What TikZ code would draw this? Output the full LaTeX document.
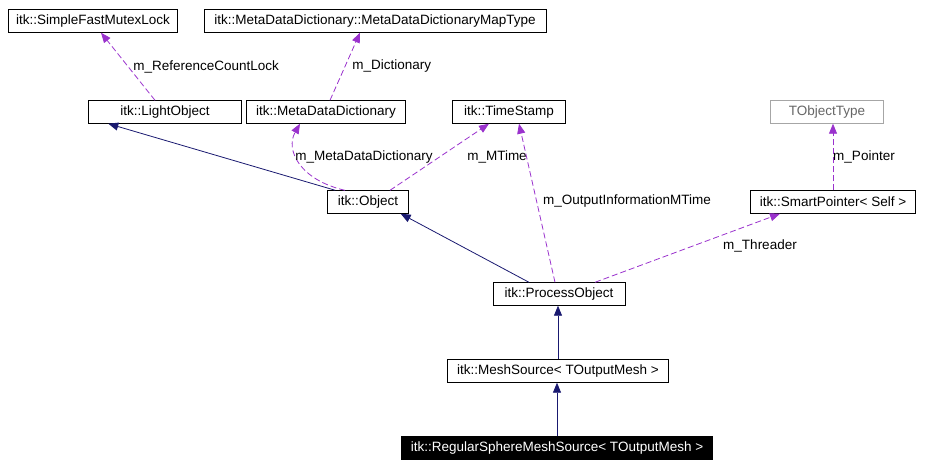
\documentclass[tikz,border=0pt]{standalone}
\usepackage{fontspec}
\setmainfont{Liberation Sans}
\usetikzlibrary{arrows,arrows.meta}
\definecolor{edgeblue}{HTML}{191970}
\definecolor{edgepurple}{HTML}{9A32CD}
\tikzstyle{cls}=[draw=black,fill=white,inner sep=0pt,minimum height=23pt,font=\fontsize{13.5}{15}\selectfont]
\tikzstyle{inherit}=[edgeblue,line width=0.8pt,-{Triangle[length=10pt,width=8pt]}]
\tikzstyle{member}=[edgepurple,line width=0.8pt,dash pattern=on 6pt off 3pt,-{Triangle[length=10pt,width=8pt]}]
\tikzstyle{lbl}=[text=black,font=\fontsize{13.5}{15}\selectfont,inner sep=1pt]

\begin{document}
\begin{tikzpicture}[x=1pt,y=-1pt]
		\useasboundingbox (0,0) rectangle (926,468);

		\node[cls,minimum width=169pt] (lock) at (93,21) {itk::SimpleFastMutexLock};
		\node[cls,minimum width=342pt] (maptype) at (375,21) {itk::MetaDataDictionary::MetaDataDictionaryMapType};
		\node[cls,minimum width=153pt] (light) at (165,112) {itk::LightObject};
		\node[cls,minimum width=159pt] (dict) at (326,112) {itk::MetaDataDictionary};
		\node[cls,minimum width=113pt] (stamp) at (509,112) {itk::TimeStamp};
		\node[cls,minimum width=113pt,draw=gray!70,text=gray!80!black] (otype) at (827,112) {TObjectType};
		\node[cls,minimum width=81pt] (object) at (368,202) {itk::Object};
		\node[cls,minimum width=165pt] (smart) at (833,202) {itk::SmartPointer< Self >};
		\node[cls,minimum width=132pt] (process) at (559,294) {itk::ProcessObject};
		\node[cls,minimum width=221pt] (mesh) at (558,371) {itk::MeshSource< TOutputMesh >};
		\node[cls,minimum width=311pt,fill=black,text=white] (sphere) at (557,448) {itk::RegularSphereMeshSource< TOutputMesh >};

		% inheritance
		\draw[inherit] ([xshift=8pt]object.north west) -- ([xshift=20pt]light.south west);
		\draw[inherit] ([xshift=-30pt]process.north) -- ([xshift=-8pt]object.south east);
		\draw[inherit] (mesh.north) -- (mesh.north |- process.south);
		\draw[inherit] (sphere.north) -- (sphere.north |- mesh.south);

		% members
		\draw[member] ([xshift=-10pt]light.north) -- ([xshift=8pt]lock.south) node[lbl,pos=.5,right=4pt] {m\_ReferenceCountLock};
		\draw[member] ([xshift=4pt]dict.north) -- ([xshift=-15pt]maptype.south) node[lbl,pos=.5,right=6pt] {m\_Dictionary};
		\draw[member] ([xshift=-23pt]object.north) .. controls (300,180) and (285,150) .. ([xshift=-26pt]dict.south);
		\node[lbl] (mdd) at (364,157) {m\_MetaDataDictionary};
		\draw[member] ([xshift=22pt]object.north) -- ([xshift=-20pt]stamp.south);
		\node[lbl] (mtime) at (497,157) {m\_MTime};
		\draw[member] ([xshift=-4pt]process.north) -- ([xshift=10pt]stamp.south);
		\node[lbl] (omtime) at (627,201) {m\_OutputInformationMTime};
		\draw[member] ([xshift=36pt]process.north) -- ([xshift=-53pt]smart.south);
		\node[lbl] (thr) at (760,246) {m\_Threader};
		\draw[member] (smart.north) -- (smart.north |- otype.south);
		\node[lbl] (ptr) at (864,157) {m\_Pointer};
	\end{tikzpicture}
\end{document}
